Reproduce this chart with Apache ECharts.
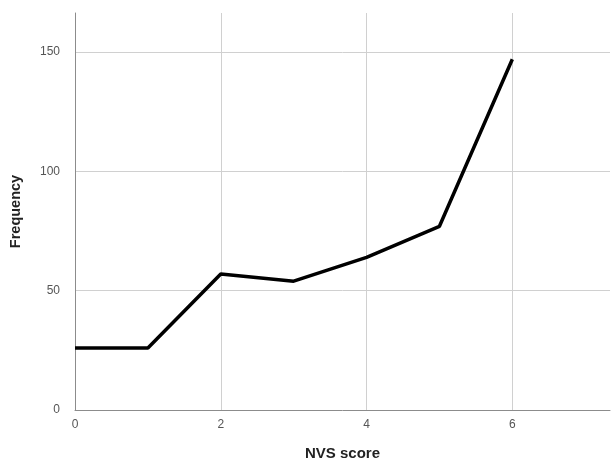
<!DOCTYPE html>
<html>
<head>
<meta charset="utf-8">
<script src="https://cdn.jsdelivr.net/npm/echarts@6/dist/echarts.min.js"></script>
<style>html,body{margin:0;padding:0;background:#fff;overflow:hidden}#c{width:613px;height:466px}</style>
</head>
<body>
<div id="c"></div>
<script>
var scores = [0, 1, 2, 3, 4, 5, 6];
var frequency = [26, 26, 57, 54, 64, 77, 147];
var xTicks = [0, 2, 4, 6];
var yTicks = [0, 50, 100, 150];

var chart = echarts.init(document.getElementById('c'), null, {renderer: 'canvas'});
var font = '"Liberation Sans", Arial, sans-serif';
chart.setOption({
  animation: false,
  grid: {left: 73, top: 13, right: 0, bottom: 54},
  xAxis: {
    type: 'value', min: 0, max: 7.34, interval: 2,
    name: 'NVS score', nameLocation: 'middle', nameGap: 36,
    nameTextStyle: {fontFamily: font, fontSize: 15, fontWeight: 'bold', color: '#222'},
    axisLine: {show: true, lineStyle: {color: '#8c8c8c', width: 1}},
    axisTick: {show: false},
    axisLabel: {fontFamily: font, fontSize: 12, color: '#555', margin: 9,
      formatter: function (v) { return xTicks.indexOf(v) >= 0 ? String(v) : ''; }},
    splitLine: {show: true, showMinLine: false, showMaxLine: false, lineStyle: {color: '#d0d0d0', width: 1}}
  },
  yAxis: {
    type: 'value', min: 0, max: 166.4, interval: 50,
    name: 'Frequency', nameLocation: 'middle', nameGap: 52, nameRotate: 90,
    nameTextStyle: {fontFamily: font, fontSize: 14.5, fontWeight: 'bold', color: '#222'},
    axisLine: {show: true, lineStyle: {color: '#8c8c8c', width: 1}},
    axisTick: {show: false},
    axisLabel: {fontFamily: font, fontSize: 12, color: '#555', margin: 15,
      formatter: function (v) { return yTicks.indexOf(v) >= 0 ? String(v) : ''; }},
    splitLine: {show: true, showMinLine: false, showMaxLine: false, lineStyle: {color: '#d0d0d0', width: 1}}
  },
  series: [{
    type: 'line',
    data: scores.map(function (s, i) { return [s, frequency[i]]; }),
    showSymbol: false,
    lineStyle: {color: '#000', width: 3.5},
    z: 5
  }]
});
</script>
</body>
</html>
